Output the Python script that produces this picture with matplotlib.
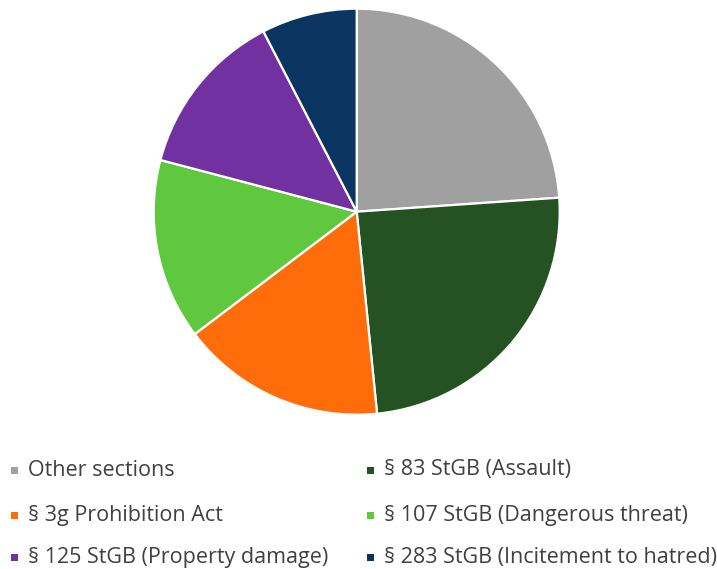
import matplotlib.pyplot as plt
from matplotlib.patches import Rectangle

plt.rcParams['font.family'] = ['Open Sans', 'DejaVu Sans']

labels = ['Other sections', '§ 83 StGB (Assault)', '§ 3g Prohibition Act',
          '§ 107 StGB (Dangerous threat)', '§ 125 StGB (Property damage)',
          '§ 283 StGB (Incitement to hatred)']
shares = [23.9, 24.5, 16.3, 14.4, 13.3, 7.6]
colors = ['#A0A0A0', '#245222', '#FF6D0A', '#60C83E', '#7231A0', '#0A3560']

W, H = 717, 569
fig = plt.figure(figsize=(W / 100, H / 100), dpi=100)
cx, cy, r = 356.7, 211.7, 203
ax = fig.add_axes([(cx - r) / W, (H - cy - r) / H, 2 * r / W, 2 * r / H])
ax.pie(shares, colors=colors, startangle=90, counterclock=False,
       wedgeprops=dict(edgecolor='white', linewidth=1.6), radius=1.0)
ax.set_xlim(-1, 1)
ax.set_ylim(-1, 1)
ax.set_aspect('equal')

# legend, two columns filled row by row
col_x = [11, 367]
row_y = [470, 515.5, 557.5]
for i, (lab, c) in enumerate(zip(labels, colors)):
    x = col_x[i % 2]
    y = row_y[i // 2]
    fig.add_artist(Rectangle((x / W, (H - y - 3.5) / H), 7 / W, 7 / H,
                             facecolor=c, edgecolor='none',
                             transform=fig.transFigure))
    fig.text((x + 17) / W, (H - y) / H, lab, fontsize=15.5,
             color='#404040', va='center', ha='left')

fig.savefig('out.png', dpi=100)
